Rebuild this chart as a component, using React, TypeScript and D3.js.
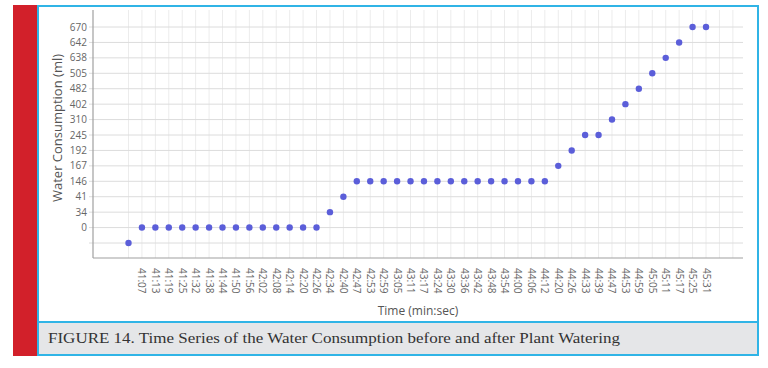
import React from "react";
import * as d3 from "d3";

const timeLabels = ["", "41:07", "41:13", "41:19", "41:25", "41:32", "41:38", "41:44", "41:50", "41:56", "42:02", "42:08", "42:14", "42:20", "42:26", "42:34", "42:40", "42:47", "42:53", "42:59", "43:05", "43:11", "43:17", "43:24", "43:30", "43:36", "43:42", "43:48", "43:54", "44:00", "44:06", "44:12", "44:20", "44:26", "44:33", "44:39", "44:47", "44:53", "44:59", "45:05", "45:11", "45:17", "45:25", "45:31"];
const yCategories = ["", "0", "34", "41", "146", "167", "192", "245", "310", "402", "482", "505", "638", "642", "670"];
const consumption = ["", "0", "0", "0", "0", "0", "0", "0", "0", "0", "0", "0", "0", "0", "0", "34", "41", "146", "146", "146", "146", "146", "146", "146", "146", "146", "146", "146", "146", "146", "146", "146", "167", "192", "245", "245", "310", "402", "482", "505", "638", "642", "670", "670"];

export default function App() {
  const W = 768, H = 368;
  const plotL = 93, plotR = 743, plotT = 10, plotB = 258;
  const x = d3.scalePoint<string>().domain(timeLabels).range([128.5, 706]);
  const y = d3.scalePoint<string>().domain(yCategories).range([243, 27]);
  const step = x.step();
  const vGrid: number[] = [];
  for (let v = x(timeLabels[0])!; v <= plotR; v += step) vGrid.push(v);
  const font = "'Open Sans', 'Noto Sans', sans-serif";
  return (
    <svg width={W} height={H} style={{ position: "absolute", left: 0, top: 0 }}>
      <rect x={0} y={0} width={W} height={H} fill="#fff" />
      {/* red side bar */}
      <rect x={13} y={5} width={24} height={351} fill="#d2202a" />
      {/* frame */}
      <rect x={38} y={6} width={720} height={349} fill="#fff" stroke="#30b4e6" strokeWidth={2} />
      <rect x={38} y={322} width={720} height={33} fill="#e5e6e8" stroke="#30b4e6" strokeWidth={2} />
      <text x={48} y={343} fontFamily="'Liberation Serif', 'DejaVu Serif', serif" fontSize={15.5} fill="#333" textLength={572} lengthAdjust="spacingAndGlyphs">
        FIGURE 14. Time Series of the Water Consumption before and after Plant Watering
      </text>
      {/* grid */}
      {vGrid.map((v, i) => (
        <line key={"v" + i} x1={v} x2={v} y1={plotT} y2={plotB} stroke="#ececec" strokeWidth={1} />
      ))}
      {yCategories.map((c) => (
        <line key={"h" + c} x1={plotL - 4} x2={plotR} y1={y(c)!} y2={y(c)!} stroke="#dcdcdc" strokeWidth={1} />
      ))}
      {/* axes */}
      <line x1={plotL} x2={plotL} y1={plotT} y2={plotB} stroke="#a0a0a0" strokeWidth={1.2} />
      <line x1={plotL} x2={plotR} y1={plotB} y2={plotB} stroke="#a0a0a0" strokeWidth={1.2} />
      {yCategories.map((c) => (
        <text key={"yl" + c} x={plotL - 6} y={y(c)!} dy="0.35em" textAnchor="end" fontFamily={font} fontSize={10} fill="#666">
          {c}
        </text>
      ))}
      {timeLabels.map((t, i) => (
        <text key={"xl" + i} transform={`translate(${x(t)! - 3.5},268) rotate(90)`} fontFamily={font} fontSize={10} fill="#666" dy="0">
          {t}
        </text>
      ))}
      <text x={418} y={315} textAnchor="middle" fontFamily={font} fontSize={12} fill="#555">
        Time (min:sec)
      </text>
      <text transform="translate(62,128) rotate(-90)" textAnchor="middle" fontFamily={font} fontSize={13} fill="#555">
        Water Consumption (ml)
      </text>
      {/* points */}
      {timeLabels.map((t, i) => (
        <circle key={"p" + i} cx={x(t)!} cy={y(consumption[i])!} r={3.2} fill="#5b5ed9" />
      ))}
    </svg>
  );
}
